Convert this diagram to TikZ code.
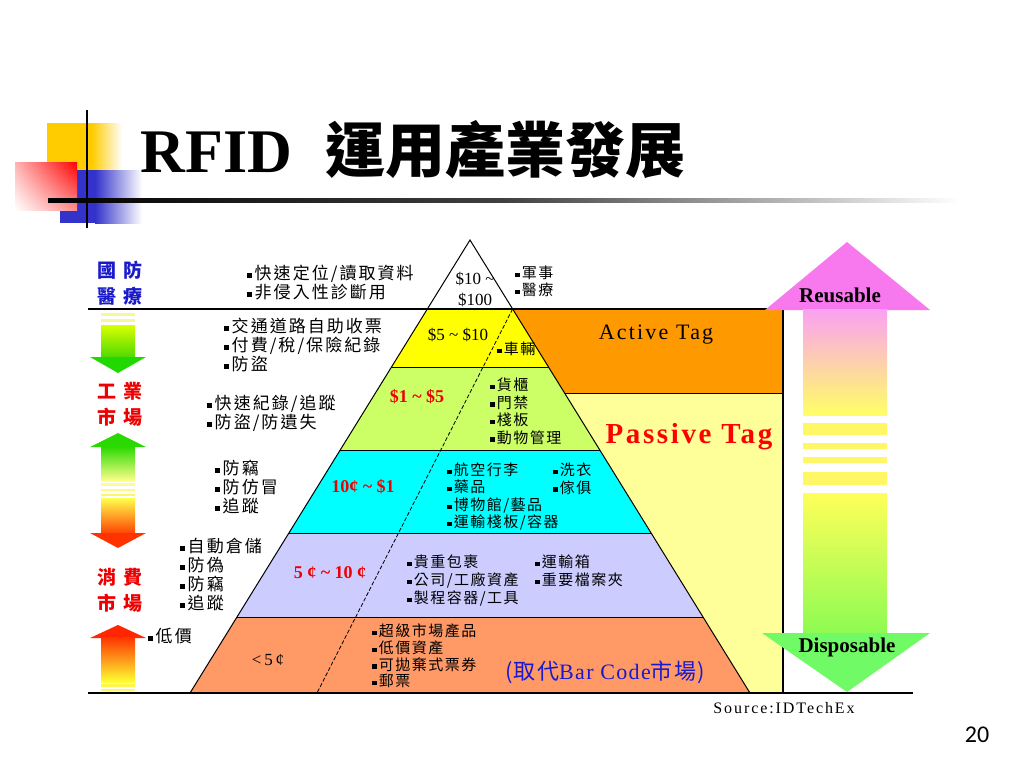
\documentclass[tikz,border=0pt]{standalone}
\usepackage{fontspec}
\usetikzlibrary{shadings}
\setmainfont{Liberation Serif}
\newfontfamily\cjk{Noto Sans CJK TC}
\newfontfamily\pagefont{Carlito}
\definecolor{deco-yellow}{HTML}{FFCC00}
\definecolor{deco-blue}{HTML}{3333CC}
\definecolor{tag-orange}{HTML}{FF9900}
\definecolor{tag-cream}{HTML}{FFFF99}
\definecolor{band-yellow}{HTML}{FFFF00}
\definecolor{band-lime}{HTML}{CCFF66}
\definecolor{band-cyan}{HTML}{00FFFF}
\definecolor{band-lilac}{HTML}{CCCCFF}
\definecolor{band-salmon}{HTML}{FF9966}
\definecolor{price-red}{HTML}{EE0000}
\definecolor{market-blue}{HTML}{1A1ACC}
\definecolor{reuse-pink}{HTML}{F878EE}
\definecolor{dispose-green}{HTML}{70FA66}
\newcommand{\bul}{\rule[0.1em]{0.28em}{0.28em}\hspace{0.15em}}
\tikzstyle{use-list} = [anchor=north west, align=left, inner sep=0pt,
    font=\cjk\fontsize{8.5}{9.5}\selectfont\addfontfeature{LetterSpace=12}]
\tikzstyle{app-list} = [anchor=north west, align=left, inner sep=0pt,
    font=\cjk\fontsize{7.5}{8.75}\selectfont\addfontfeature{LetterSpace=10}]
\tikzstyle{market} = [anchor=north west, align=left, inner sep=0pt,
    font=\cjk\bfseries\fontsize{9.5}{13}\selectfont\addfontfeature{LetterSpace=40}]
\tikzstyle{price} = [inner sep=0pt, align=center, font=\fontsize{8.5}{10.5}\selectfont]
\tikzstyle{price-hot} = [inner sep=0pt, align=center, text=price-red,
    font=\bfseries\fontsize{9}{10}\selectfont]

\begin{document}
\begin{tikzpicture}[x=0.5pt, y=-0.5pt]
\useasboundingbox (0,0) rectangle (1024,768);
\fill[white] (0,0) rectangle (1024,768);

\fill[deco-yellow] (47,123) rectangle (92,185);
\shade[left color=deco-yellow, right color=white] (92,123) rectangle (122,185);
\fill[deco-blue] (60,170) rectangle (95,223);
\shade[left color=deco-blue, right color=white] (95,170) rectangle (142,223);
\shade[upper right=red, upper left=red!30, lower left=white, lower right=red!45] (15,162) rectangle (77,210);
\draw[line width=1.2pt] (87,110) -- (87,228);
\shade[left color=black, right color=white, middle color=black!75] (48,198) rectangle (960,202);
\node[anchor=base west, inner sep=0pt, font=\bfseries\fontsize{31}{36}\selectfont] (title) at (140,172)
    {RFID\hspace{17pt}{\cjk\fontsize{30}{36}\selectfont 運用產業發展}};

\fill[band-yellow] (427.4,309) -- (512.6,309) -- (548.5,367) -- (391.5,367) -- cycle;
\fill[band-lime] (391.5,367) -- (548.5,367) -- (599.8,450) -- (340.2,450) -- cycle;
\fill[band-cyan] (340.2,450) -- (599.8,450) -- (651,533) -- (289,533) -- cycle;
\fill[band-lilac] (289,533) -- (651,533) -- (703,617) -- (237,617) -- cycle;
\fill[band-salmon] (237,617) -- (703,617) -- (750,693) -- (190,693) -- cycle;
\fill[tag-orange] (512.6,309) -- (783,309) -- (783,393) -- (564.6,393) -- cycle;
\fill[tag-cream] (564.6,393) -- (783,393) -- (783,693) -- (750,693) -- cycle;

\fill[yellow!60!lime!40] (101,313) rectangle (135,316);
\fill[yellow!60!lime!40] (101,319) rectangle (135,322);
\shade[top color=lime!60!yellow, bottom color=green!75!black!60!lime] (101,325) rectangle (135,358);
\fill[green!80!lime!85!black] (90,357) -- (146,357) -- (118,373) -- cycle;
\fill[green!75!lime!85!black] (90,447) -- (146,447) -- (118,433) -- cycle;
\shade[top color=green!75!lime!85!black, bottom color=yellow!45] (101,446) rectangle (135,481);
\fill[yellow!40] (101,483) rectangle (135,486);
\fill[yellow!45] (101,489) rectangle (135,491);
\fill[yellow!60] (101,494) rectangle (135,496);
\shade[top color=yellow!70, bottom color=red!75!yellow] (101,498) rectangle (135,534);
\fill[red!80!yellow] (90,533) -- (146,533) -- (118,548) -- cycle;
\fill[red!85!yellow] (90,638) -- (146,638) -- (118,625) -- cycle;
\shade[top color=red!80!yellow, bottom color=yellow!80] (101,637) rectangle (135,682);
\fill[yellow!70] (101,684) rectangle (135,687);
\fill[yellow!60] (101,689) rectangle (135,691);

\draw[line width=0.5pt] (190,693) -- (470,240) -- (750,693);
\draw[line width=0.5pt] (391.5,367) -- (548.5,367);
\draw[line width=0.5pt] (340.2,450) -- (599.8,450);
\draw[line width=0.5pt] (289,533) -- (651,533);
\draw[line width=0.5pt] (237,617) -- (703,617);
\draw[line width=0.5pt] (564.6,393) -- (783,393);
\draw[line width=0.8pt] (88,309) -- (783,309) -- (783,693);
\draw[line width=0.8pt] (88,693) -- (913,693);
\draw[line width=0.4pt, dash pattern=on 2pt off 1pt] (512.6,309) -- (317,693);

\fill[reuse-pink] (765,310) -- (930,310) -- (847,242) -- cycle;
\shade[top color=reuse-pink!70!white, bottom color=yellow!60] (803,309) rectangle (887,415);
\fill[yellow!60] (803,423) rectangle (887,435);
\fill[yellow!60] (803,443) rectangle (887,449);
\fill[yellow!60] (803,457) rectangle (887,463);
\fill[yellow!60] (803,472) rectangle (887,485);
\shade[top color=yellow!65, bottom color=dispose-green!80!yellow] (803,493) rectangle (887,634);
\fill[dispose-green] (762,633) -- (930,633) -- (847,692) -- cycle;

\node[market, text=market-blue] (defense) at (97,260.5) {國防\\醫療};
\node[market, text=price-red] (industry) at (97,381.5) {工業\\市場};
\node[market, text=price-red] (consumer) at (97,567.5) {消費\\市場};

\node[use-list] (defense-uses) at (247,264.5) {\bul 快速定位/讀取資料\\\bul 非侵入性診斷用};
\node[use-list] (toll-uses) at (224,317.5) {\bul 交通道路自助收票\\\bul 付費/稅/保險紀錄\\\bul 防盜};
\node[use-list] (track-uses) at (207,394.5) {\bul 快速紀錄/追蹤\\\bul 防盜/防遺失};
\node[use-list] (theft-uses) at (215,459.5) {\bul 防竊\\\bul 防仿冒\\\bul 追蹤};
\node[use-list] (store-uses) at (180,537.5) {\bul 自動倉儲\\\bul 防偽\\\bul 防竊\\\bul 追蹤};
\node[use-list] (cheap-uses) at (148,627.5) {\bul 低價};

\node[app-list, font=\cjk\fontsize{7.5}{8.5}\selectfont\addfontfeature{LetterSpace=10}] (military-apps) at (515,265.5) {\bul 軍事\\\bul 醫療};
\node[app-list] (vehicle-apps) at (497,341.5) {\bul 車輛};
\node[app-list] (cargo-apps) at (490,377.5) {\bul 貨櫃\\\bul 門禁\\\bul 棧板\\\bul 動物管理};
\node[app-list, font=\cjk\fontsize{7.5}{8.65}\selectfont\addfontfeature{LetterSpace=10}] (airline-apps) at (447,462.5)
    {\bul 航空行李\\\bul 藥品\\\bul 博物館/藝品\\\bul 運輸棧板/容器};
\node[app-list] (laundry-apps) at (553,462.5) {\bul 洗衣\\\bul 傢俱};
\node[app-list, font=\cjk\fontsize{7.5}{9}\selectfont\addfontfeature{LetterSpace=10}] (parcel-apps) at (407,554.5)
    {\bul 貴重包裹\\\bul 公司/工廠資產\\\bul 製程容器/工具};
\node[app-list, font=\cjk\fontsize{7.5}{9}\selectfont\addfontfeature{LetterSpace=10}] (box-apps) at (535,554.5) {\bul 運輸箱\\\bul 重要檔案夾};
\node[app-list, font=\cjk\fontsize{7.5}{8.35}\selectfont\addfontfeature{LetterSpace=10}] (retail-apps) at (372,623.5)
    {\bul 超級市場產品\\\bul 低價資產\\\bul 可拋棄式票券\\\bul 郵票};

\node[price] (price-top) at (475,289) {\$10 \textasciitilde\\\$100};
\node[price] (price-yellow) at (458,335) {\$5 \textasciitilde\ \$10};
\node[price-hot] (price-lime) at (417,397) {\$1 \textasciitilde\ \$5};
\node[price-hot] (price-cyan) at (363,487) {10¢ \textasciitilde\ \$1};
\node[price-hot] (price-lilac) at (330,573) {5 ¢ \textasciitilde\ 10 ¢};
\node[price] (price-salmon) at (268,660) {<\,5\,¢};

\node[font=\fontsize{11}{13}\selectfont\addfontfeature{LetterSpace=10}] (active-tag) at (656,335) {Active Tag};
\node[text=red, font=\bfseries\fontsize{14.5}{16}\selectfont\addfontfeature{LetterSpace=9}] (passive-tag) at (689,437) {Passive Tag};
\node[font=\bfseries\fontsize{10.5}{12}\selectfont] (reusable) at (840,295) {Reusable};
\node[font=\bfseries\fontsize{10.5}{12}\selectfont] (disposable) at (847,647) {Disposable};
\node[text=market-blue, font=\cjk\fontsize{11}{13}\selectfont\addfontfeature{LetterSpace=6}] (barcode) at (605,672)
    {(取代{\rmfamily\addfontfeature{LetterSpace=6}Bar Code}市場)};
\node[anchor=west, inner sep=0pt, font=\fontsize{8}{9}\selectfont\addfontfeature{LetterSpace=12}] (source) at (713,708) {Source:IDTechEx};
\node[font=\pagefont\fontsize{12}{14}\selectfont] (page-no) at (977,735) {20};
\end{tikzpicture}
\end{document}
